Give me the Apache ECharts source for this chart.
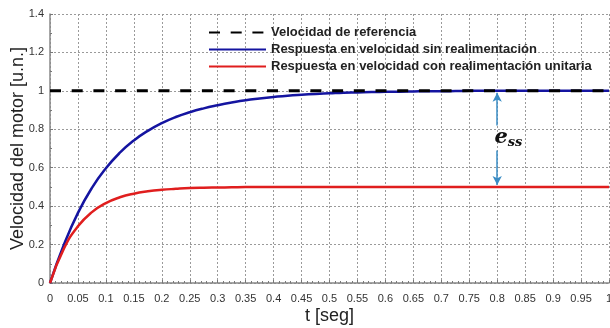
<!DOCTYPE html>
<html>
<head>
<meta charset="utf-8">
<script src="https://cdn.jsdelivr.net/npm/echarts@6/dist/echarts.min.js"></script>
<style>
  html, body { margin: 0; padding: 0; background: #fff; }
  #main { width: 610px; height: 328px; }
</style>
</head>
<body>
<div id="main"></div>
<script>
// tiempo [seg], muestreado cada 0.025
var tiempo = [0, 0.025, 0.05, 0.075, 0.1, 0.125, 0.15, 0.175, 0.2, 0.225,
    0.25, 0.275, 0.3, 0.325, 0.35, 0.375, 0.4, 0.425, 0.45, 0.475,
    0.5, 0.525, 0.55, 0.575, 0.6, 0.625, 0.65, 0.675, 0.7, 0.725,
    0.75, 0.775, 0.8, 0.825, 0.85, 0.875, 0.9, 0.925, 0.95, 0.975, 1];

// respuesta sin realimentacion (azul)
var sinRealim = [0, 0.2, 0.365, 0.495, 0.597, 0.678, 0.742, 0.792, 0.832, 0.864,
    0.889, 0.909, 0.925, 0.939, 0.951, 0.96, 0.968, 0.975, 0.98, 0.984,
    0.987, 0.99, 0.992, 0.994, 0.995, 0.996, 0.997, 0.998, 0.998, 0.999,
    1, 1, 1, 1, 1, 1, 1, 1, 1, 1, 1];

// respuesta con realimentacion unitaria (rojo)
var conRealim = [0, 0.18, 0.295, 0.369, 0.416, 0.446, 0.465, 0.477, 0.485, 0.49,
    0.494, 0.496, 0.497, 0.498, 0.499, 0.499, 0.5, 0.5, 0.5, 0.5,
    0.5, 0.5, 0.5, 0.5, 0.5, 0.5, 0.5, 0.5, 0.5, 0.5,
    0.5, 0.5, 0.5, 0.5, 0.5, 0.5, 0.5, 0.5, 0.5, 0.5, 0.5];

// velocidad de referencia
var refTiempo = [0, 1];
var refValor = [1, 1];

// flecha e_ss en t = 0.8
var essT = 0.8;
var essArriba = [0.82, 0.99];
var essAbajo = [0.69, 0.51];
var essTexto = 0.755;

function pares(xs, ys) {
    var out = [];
    for (var i = 0; i < xs.length; i++) {
        out.push([xs[i], ys[i]]);
    }
    return out;
}

var chart = echarts.init(document.getElementById('main'));

var gridDot = { show: true, lineStyle: { color: '#9a9a9a', type: [2, 2], width: 1 } };

var option = {
    animation: false,
    backgroundColor: '#fff',
    textStyle: { fontFamily: 'Liberation Sans, Arial, sans-serif' },
    grid: { left: 50, right: 1, top: 14, bottom: 45, outerBoundsMode: 'none' },
    legend: {
        orient: 'vertical',
        left: 203,
        top: 21,
        itemWidth: 57,
        itemHeight: 14,
        itemGap: 4,
        itemStyle: { opacity: 0 },
        textStyle: { fontSize: 13, color: '#222', fontWeight: 'bold' },
        data: ['Velocidad de referencia',
               'Respuesta en velocidad sin realimentación',
               'Respuesta en velocidad con realimentación unitaria']
    },
    xAxis: {
        type: 'value',
        min: 0,
        max: 1,
        interval: 0.05,
        name: 't [seg]',
        nameLocation: 'middle',
        nameGap: 24,
        nameMoveOverlap: false,
        nameTextStyle: { fontSize: 18, color: '#222' },
        axisLine: { lineStyle: { color: '#888', width: 1.5 } },
        axisTick: { show: true, inside: true, length: 3, lineStyle: { color: '#777' } },
        minorTick: { show: true, splitNumber: 5, length: 2, lineStyle: { color: '#777' } },
        axisLabel: { fontSize: 11, color: '#333', margin: 10, hideOverlap: false },
        splitLine: gridDot
    },
    yAxis: {
        type: 'value',
        min: 0,
        max: 1.4,
        interval: 0.2,
        name: 'Velocidad del motor [u.n.]',
        nameLocation: 'middle',
        nameGap: 23,
        nameMoveOverlap: false,
        nameTextStyle: { fontSize: 18, color: '#222' },
        axisLine: { show: true, lineStyle: { color: '#888', width: 1.5 } },
        axisTick: { show: true, inside: true, length: 3, lineStyle: { color: '#777' } },
        minorTick: { show: true, splitNumber: 2, length: 2, lineStyle: { color: '#777' } },
        axisLabel: { fontSize: 11, color: '#333', margin: 6 },
        splitLine: gridDot
    },
    series: [
        {
            name: 'Velocidad de referencia',
            type: 'line',
            symbol: 'none',
            z: 4,
            lineStyle: { color: '#000', width: 3, type: [11, 10.7] },
            itemStyle: { color: '#000' },
            data: pares(refTiempo, refValor)
        },
        {
            name: 'Respuesta en velocidad sin realimentación',
            type: 'line',
            symbol: 'none',
            smooth: true,
            z: 3,
            lineStyle: { color: '#1414a0', width: 2.5 },
            itemStyle: { color: '#1414a0' },
            data: pares(tiempo, sinRealim)
        },
        {
            name: 'Respuesta en velocidad con realimentación unitaria',
            type: 'line',
            symbol: 'none',
            smooth: true,
            z: 3,
            lineStyle: { color: '#e01e1e', width: 2.5 },
            itemStyle: { color: '#e01e1e' },
            data: pares(tiempo, conRealim),
            markLine: {
                silent: true,
                symbol: ['none', 'arrow'],
                symbolSize: [7, 9],
                label: { show: false },
                lineStyle: { color: '#3a8cc4', width: 1.5, type: 'solid' },
                data: [
                    [{ coord: [essT, essArriba[0]] }, { coord: [essT, essArriba[1]] }],
                    [{ coord: [essT, essAbajo[0]] }, { coord: [essT, essAbajo[1]] }]
                ]
            },
            markPoint: {
                silent: true,
                symbolSize: 0,
                label: {
                    show: true,
                    position: 'inside',
                    formatter: '{e|e}{s|ss}',
                    rich: {
                        e: { fontFamily: 'DejaVu Serif, serif', fontStyle: 'italic', fontWeight: 'bold', fontSize: 21, color: '#111' },
                        s: { fontFamily: 'DejaVu Serif, serif', fontStyle: 'italic', fontWeight: 'bold', fontSize: 13, color: '#111', verticalAlign: 'bottom', padding: [10, 0, 0, 0] }
                    }
                },
                data: [{ coord: [essT + 0.02, essTexto] }]
            }
        }
    ]
};

chart.setOption(option);
</script>
</body>
</html>
